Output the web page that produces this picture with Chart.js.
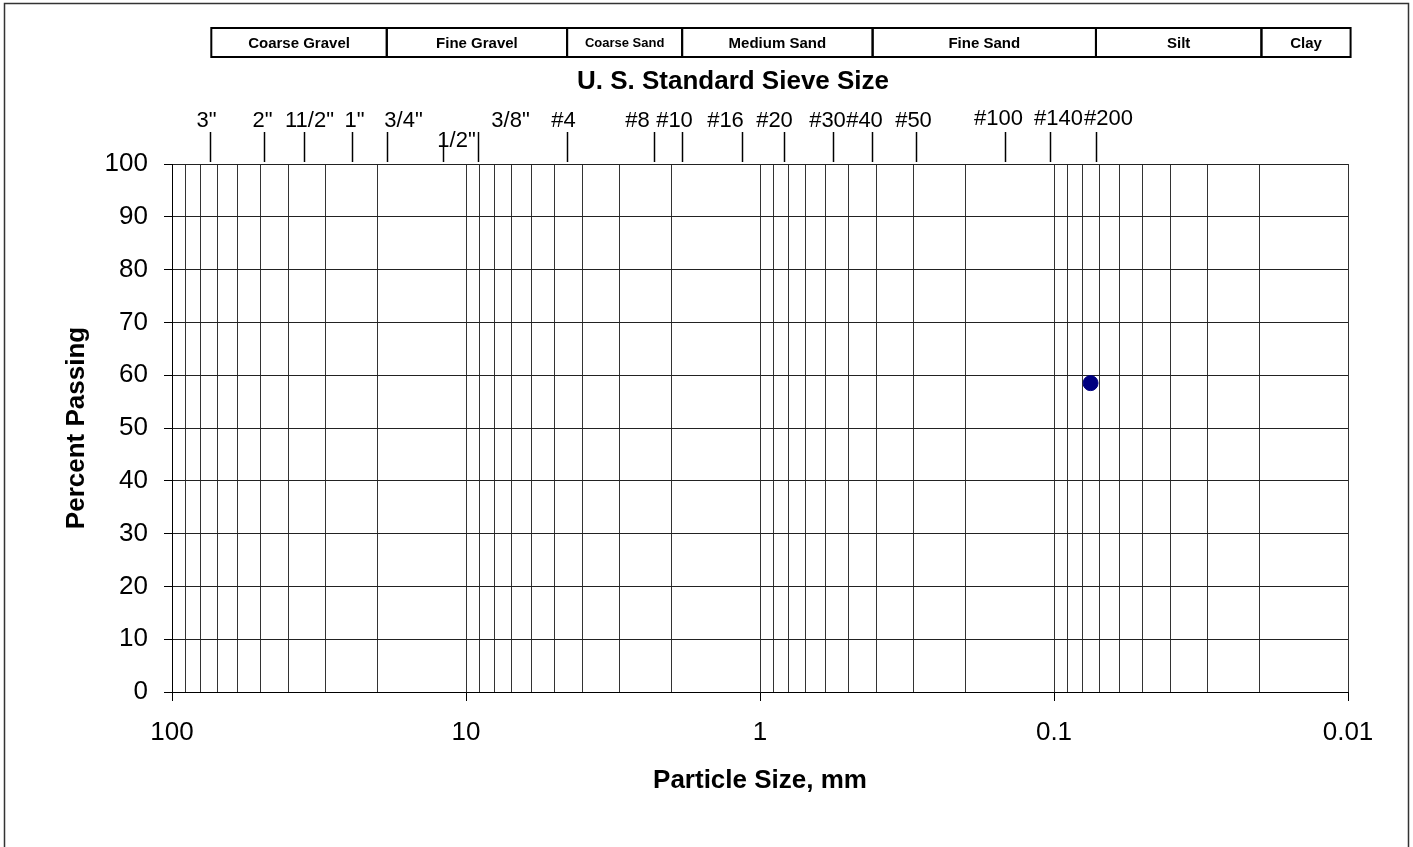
<!DOCTYPE html>
<html>
<head>
<meta charset="utf-8">
<script src="https://cdn.jsdelivr.net/npm/chart.js@4/dist/chart.umd.min.js"></script>
<style>
    html, body { margin: 0; padding: 0; background: #fff; }
    #wrap { width: 1413px; height: 847px; }
</style>
</head>
<body>
<div id="wrap"><canvas id="gradChart" width="1413" height="847"></canvas></div>
<script>
// data
var sieveLabels = ['3"', '2"', '11/2"', '1"', '3/4"', '1/2"', '3/8"', '#4', '#8', '#10', '#16', '#20', '#30', '#40', '#50', '#100', '#140', '#200'];
var sieveSizes = [74.3, 48.8, 35.6, 24.4, 18.5, 11.96, 9.11, 4.52, 2.29, 1.84, 1.154, 0.831, 0.565, 0.416, 0.2956, 0.1473, 0.1035, 0.0719];
var soilClasses = ['Coarse Gravel', 'Fine Gravel', 'Coarse Sand', 'Medium Sand', 'Fine Sand', 'Silt', 'Clay'];
var classBounds = [73.5, 18.6, 4.53, 1.84, 0.414, 0.072, 0.0197, 0.0098];
var particleSize = [0.0751];
var percentPassing = [58.5];
var xMajorTicks = [100, 10, 1, 0.1, 0.01];
var yTickValues = [0, 10, 20, 30, 40, 50, 60, 70, 80, 90, 100];

var FONT = "'Liberation Sans', Arial, sans-serif";

// label nudges so the sieve names sit like in the original
var labelDx = [-4, -2, 5, 2, 16, 13, 32, -4, -17, -8, -17, -10, -6, -8, -3, -7, 8, 12];
var labelY = [121, 121, 121, 121, 121, 141, 121, 121, 121, 121, 121, 121, 121, 121, 121, 119, 119, 119];

function isMajor(v) {
    var l = Math.log10(v);
    return Math.abs(l - Math.round(l)) < 1e-9;
}

var points = [];
for (var i = 0; i < particleSize.length; i++) {
    points.push({ x: particleSize[i], y: percentPassing[i] });
}

var topPlugin = {
    id: 'sieveHeader',
    afterDraw: function (chart) {
        var ctx = chart.ctx;
        var xs = chart.scales.x;
        ctx.save();

        // outer frame (bottom edge is cut off in the original)
        ctx.strokeStyle = '#333';
        ctx.lineWidth = 1.5;
        ctx.beginPath();
        ctx.moveTo(4.5, 847);
        ctx.lineTo(4.5, 3.5);
        ctx.lineTo(1408.5, 3.5);
        ctx.lineTo(1408.5, 847);
        ctx.stroke();

        // soil class boxes
        ctx.strokeStyle = '#000';
        ctx.lineWidth = 2;
        var bTop = 28, bBot = 57;
        for (var i = 0; i < soilClasses.length; i++) {
            var x1 = xs.getPixelForValue(classBounds[i]);
            var x2 = xs.getPixelForValue(classBounds[i + 1]);
            ctx.strokeRect(x1, bTop, x2 - x1, bBot - bTop);
            ctx.fillStyle = '#000';
            ctx.font = 'bold ' + (soilClasses[i] === 'Coarse Sand' ? 13 : 15) + 'px ' + FONT;
            ctx.textAlign = 'center';
            ctx.textBaseline = 'middle';
            ctx.fillText(soilClasses[i], (x1 + x2) / 2, (bTop + bBot) / 2 + 1);
        }

        // header title
        ctx.font = 'bold 26px ' + FONT;
        ctx.fillText('U. S. Standard Sieve Size', 733, 82);

        // sieve ticks and names
        ctx.lineWidth = 1.5;
        ctx.font = '22px ' + FONT;
        for (var j = 0; j < sieveSizes.length; j++) {
            var px = Math.round(xs.getPixelForValue(sieveSizes[j])) + 0.5;
            ctx.beginPath();
            ctx.moveTo(px, sieveLabels[j] === '1/2"' ? 135 : 132);
            ctx.lineTo(px, 162);
            ctx.stroke();
            ctx.fillText(sieveLabels[j], px + labelDx[j], labelY[j]);
        }
        ctx.restore();
    }
};

var ctx = document.getElementById('gradChart').getContext('2d');
var gradChart = new Chart(ctx, {
    type: 'scatter',
    data: {
        datasets: [{
            label: 'Percent Passing',
            data: points,
            backgroundColor: '#000080',
            borderColor: '#000080',
            pointRadius: 7.5,
            pointHoverRadius: 7.5
        }]
    },
    options: {
        responsive: false,
        animation: false,
        layout: { padding: { left: 0, top: 164, right: 65, bottom: 0 } },
        plugins: {
            legend: { display: false },
            tooltip: { enabled: false }
        },
        scales: {
            x: {
                type: 'logarithmic',
                reverse: true,
                min: 0.01,
                max: 100,
                afterBuildTicks: function (scale) {
                    var ticks = [];
                    for (var k = -2; k <= 1; k++) {
                        for (var m = 1; m <= 9; m++) {
                            ticks.push({ value: Number((m * Math.pow(10, k)).toPrecision(6)) });
                        }
                    }
                    ticks.push({ value: 100 });
                    scale.ticks = ticks;
                },
                afterFit: function (scale) { scale.height = 155; },
                grid: {
                    color: '#333',
                    lineWidth: 1,
                    tickLength: 9,
                    tickColor: function (c) {
                        return c.tick && isMajor(c.tick.value) ? '#000' : 'rgba(0,0,0,0)';
                    }
                },
                border: { color: '#000', width: 1 },
                ticks: {
                    autoSkip: false,
                    maxRotation: 0,
                    padding: 16,
                    color: '#000',
                    font: { family: FONT, size: 26 },
                    callback: function (v) {
                        return xMajorTicks.indexOf(Number(v)) >= 0 ? String(v) : '';
                    }
                },
                title: {
                    display: true,
                    text: 'Particle Size, mm',
                    color: '#000',
                    font: { family: FONT, size: 26, weight: 'bold' },
                    padding: { top: 0, bottom: 51 }
                }
            },
            y: {
                min: 0,
                max: 100,
                afterBuildTicks: function (scale) {
                    scale.ticks = yTickValues.map(function (v) { return { value: v }; });
                },
                afterFit: function (scale) { scale.width = 172; },
                grid: { color: '#222', lineWidth: 1, tickLength: 8, tickColor: '#000' },
                border: { color: '#000', width: 1 },
                ticks: {
                    padding: 16,
                    color: '#000',
                    font: { family: FONT, size: 26 }
                },
                title: {
                    display: true,
                    text: 'Percent Passing',
                    color: '#000',
                    font: { family: FONT, size: 26, weight: 'bold' },
                    padding: { top: 61, bottom: 0 }
                }
            }
        }
    },
    plugins: [topPlugin]
});
</script>
</body>
</html>
